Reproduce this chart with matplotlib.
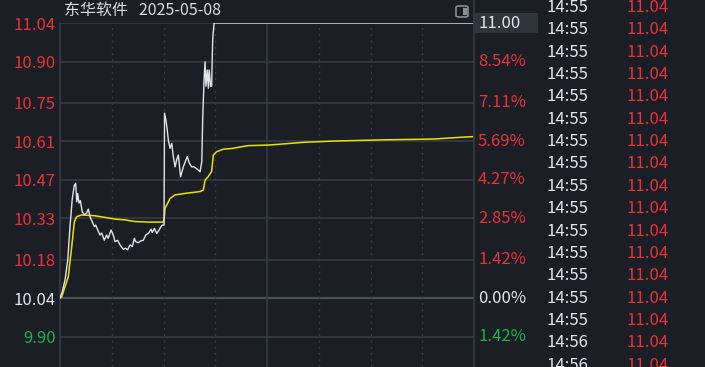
import matplotlib.pyplot as plt
from matplotlib import transforms
from matplotlib.patches import FancyBboxPatch, Rectangle

plt.rcParams['font.family'] = ['Noto Sans CJK SC', 'DejaVu Sans']

# minutes since 9:30 (trading minutes, 240 per day)
price_t = [0, 1.3, 2.9, 4.5, 5.8, 7.1, 8.3, 9.1, 9.7, 10.3, 11.0, 11.8, 12.9, 14.1, 15.5, 16.4,
           17.4, 18.7, 19.9, 20.7, 21.9, 23.2, 24.2, 25.7, 27.0, 27.9, 29.6, 30.9, 31.9, 33.4,
           34.8, 36.7, 38.1, 39.2, 40.6, 41.9, 43.1, 43.9, 45.4, 46.9, 48.3, 49.7, 51.2, 52.8,
           53.5, 54.7, 56.1, 57.4, 58.6, 59.3, 60.3, 60.6, 61.4, 62.2, 62.8, 63.8, 64.8, 65.7,
           66.7, 67.6, 68.6, 69.9, 71.5, 73.0, 73.8, 75.0, 76.3, 77.7, 78.8, 80.2, 81.2, 82.2,
           82.7, 83.5, 84.1, 84.6, 85.4, 86.0, 86.5, 87.3, 87.9, 88.5, 89.3, 240]
price_v = [10.04, 10.062, 10.105, 10.178, 10.30, 10.40, 10.45, 10.457, 10.39, 10.42, 10.385, 10.394,
           10.354, 10.342, 10.35, 10.363, 10.336, 10.317, 10.30, 10.305, 10.287, 10.269, 10.276,
           10.25, 10.269, 10.257, 10.287, 10.269, 10.245, 10.25, 10.233, 10.217, 10.221, 10.215,
           10.233, 10.227, 10.257, 10.245, 10.241, 10.248, 10.25, 10.269, 10.275, 10.29, 10.278,
           10.293, 10.275, 10.287, 10.30, 10.305, 10.305, 10.712, 10.687, 10.65, 10.614, 10.584,
           10.602, 10.554, 10.517, 10.542, 10.56, 10.481, 10.517, 10.542, 10.554, 10.53, 10.517,
           10.517, 10.512, 10.505, 10.499, 10.536, 10.687, 10.833, 10.899, 10.81, 10.869, 10.803,
           10.869, 10.81, 10.81, 10.978, 11.04, 11.04]

avg_t = [0, 1.0, 2.9, 4.8, 6.8, 8.3, 9.7, 12.6, 20.3, 26.1, 31.9, 37.7, 43.5, 51.2, 59.9, 60.4,
         60.9, 63.8, 66.7, 73.4, 81.2, 83.1, 84.1, 85.9, 87.9, 88.9, 90.8, 94.7, 100.0, 108.9,
         120.5, 131.2, 140.8, 160.2, 187.2, 216.4, 233.8, 240]
avg_v = [10.04, 10.045, 10.081, 10.117, 10.227, 10.317, 10.336, 10.342, 10.339, 10.333, 10.327,
         10.324, 10.318, 10.316, 10.316, 10.33, 10.366, 10.402, 10.415, 10.421, 10.427, 10.433,
         10.469, 10.481, 10.5, 10.56, 10.572, 10.581, 10.584, 10.594, 10.596, 10.601, 10.606,
         10.611, 10.615, 10.618, 10.625, 10.627]

left_ticks = [11.04, 10.90, 10.75, 10.61, 10.47, 10.33, 10.18, 10.04, 9.90]
left_labels = ['11.04', '10.90', '10.75', '10.61', '10.47', '10.33', '10.18', '10.04', '9.90']
right_labels = ['', '8.54%', '7.11%', '5.69%', '4.27%', '2.85%', '1.42%', '0.00%', '1.42%']
prev_close = 10.04

trade_times = ['14:55'] * 15 + ['14:56'] * 2
trade_prices = ['11.04'] * 17

bg = '#1b1e25'
grid_c = '#363b45'
red = '#e8313a'
green = '#1fb34b'
white = '#e6e6e6'

W, H = 705, 367
fig = plt.figure(figsize=(W / 100, H / 100), dpi=100, facecolor=bg)

# plot area: x 60..474 px, top at 11.04 line (y=23 px), runs to bottom
top_px = 23
ax = fig.add_axes([60 / W, 0, 414 / W, 1 - top_px / H], facecolor=bg)
px_per_unit = 275
ax.set_ylim(11.04 - (H - top_px) / px_per_unit, 11.04)
ax.set_xlim(0, 240)

for v in left_ticks:
    if v == prev_close:
        ax.axhline(v, color='#4b515c', lw=1.5, zorder=1)
    else:
        ax.axhline(v, color=grid_c, lw=1.2, zorder=1)
for m in [30, 60, 90, 150, 180, 210]:
    ax.axvline(m, color=grid_c, lw=1.0, ls=(0, (1.5, 3)), zorder=1)
ax.axvline(120, color=grid_c, lw=1.2, zorder=1)

ax.plot(avg_t, avg_v, color='#e8e400', lw=1.1, zorder=3)
ax.plot(price_t, price_v, color='#e4e4e4', lw=1.0, zorder=4)

for s in ['top', 'right', 'bottom']:
    ax.spines[s].set_visible(False)
ax.spines['left'].set_color(grid_c)
ax.spines['left'].set_linewidth(1.2)
ax.set_xticks([])
ax.set_yticks(left_ticks)
ax.set_yticklabels(left_labels, fontsize=12)
ax.tick_params(axis='y', length=0, pad=3)
for lab, v in zip(ax.get_yticklabels(), left_ticks):
    if v > prev_close:
        lab.set_color(red)
    elif v < prev_close:
        lab.set_color(green)
    else:
        lab.set_color(white)

# right border line across full height
fig.add_artist(plt.Line2D([474 / W, 474 / W], [0, 1], transform=fig.transFigure,
                          color=grid_c, lw=1.2))

# right percentage labels
tr = transforms.blended_transform_factory(fig.transFigure, ax.transData)
for v, lab in zip(left_ticks, right_labels):
    if not lab:
        continue
    c = red if v > prev_close else (green if v < prev_close else white)
    ax.text(478 / W, v, lab, transform=tr, color=c, fontsize=12, va='center', ha='left',
            clip_on=False)

# current price box
fig.add_artist(Rectangle((475 / W, 1 - 33 / H), 63 / W, 20 / H, transform=fig.transFigure,
                         facecolor='#30343d', edgecolor='none'))
fig.text(478 / W, 1 - 23 / H, '11.00', color=white, fontsize=12, va='center', ha='left')

# title
fig.text(64 / W, 1 - 10 / H, '东华软件   2025-05-08', color='#dcdcdc', fontsize=11.5,
         va='center', ha='left')

# small panel icon
fig.add_artist(FancyBboxPatch((456 / W, 1 - 17 / H), 12 / W, 11 / H,
                              boxstyle='round,pad=0,rounding_size=0.004',
                              transform=fig.transFigure, facecolor='none',
                              edgecolor='#8a8d93', lw=1.2))
fig.add_artist(Rectangle((462.5 / W, 1 - 15 / H), 4 / W, 7 / H, transform=fig.transFigure,
                         facecolor='#8a8d93', edgecolor='none'))

# trade list
for i, (t, p) in enumerate(zip(trade_times, trade_prices)):
    y = 1 - (7.5 + i * 22.35) / H
    fig.text(547 / W, y, t, color=white, fontsize=12, va='center', ha='left')
    fig.text(627 / W, y, p, color=red, fontsize=12, va='center', ha='left')

fig.savefig('out.png', dpi=100, facecolor=bg)
